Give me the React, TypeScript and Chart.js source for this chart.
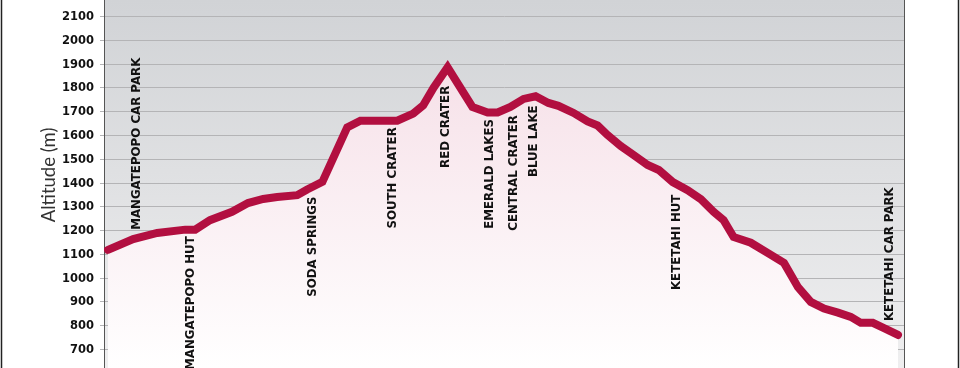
import React, { useEffect, useRef } from "react";
import { Chart, registerables } from "chart.js";

Chart.register(...registerables);

// Trail profile: distance along the track (km) and altitude (m)
const distanceKm = [
  0, 0.63, 1.23, 1.93, 2.18, 2.55, 3.1, 3.5, 3.88, 4.23, 4.73, 4.98, 5.36, 5.98, 6.31, 7.23, 7.63, 7.88,
  8.14, 8.49, 9.11, 9.49, 9.74, 10.06, 10.39, 10.69, 11.01, 11.26, 11.64, 11.99, 12.24, 12.49, 12.82,
  13.14, 13.49, 13.77, 14.12, 14.49, 14.82, 15.14, 15.39, 15.64, 16.07, 16.5, 16.9, 17.25, 17.57, 17.9,
  18.25, 18.57, 18.82, 19.12, 19.4, 19.75,
];
const altitudeM = [
  1119, 1164, 1190, 1204, 1204, 1244, 1279, 1316, 1333, 1341, 1349, 1373, 1405, 1634, 1662, 1662, 1692, 1727,
  1801, 1887, 1720, 1697, 1697, 1720, 1754, 1765, 1737, 1725, 1695, 1659, 1642, 1602, 1556,
  1518, 1476, 1455, 1404, 1370, 1332, 1279, 1244, 1173, 1149, 1105, 1064, 962, 900, 872,
  855, 837, 812, 812, 790, 761,
];

// Waypoints along the track
const waypointNames = [
  "MANGATEPOPO CAR PARK",
  "MANGATEPOPO HUT",
  "SODA SPRINGS",
  "SOUTH CRATER",
  "RED CRATER",
  "EMERALD LAKES",
  "CENTRAL CRATER",
  "BLUE LAKE",
  "KETETAHI HUT",
  "KETETAHI CAR PARK",
];
const waypointKm = [0.73, 2.08, 5.13, 7.13, 8.46, 9.54, 10.14, 10.64, 14.22, 19.55];
const waypointSide = ["above", "below", "below", "below", "below", "below", "below", "below", "below", "above"];

const axisTitle = "Altitude (m)";
const yMin = 622;
const yMax = 2170;
const yStep = 100;
const xMin = -0.1;
const xMax = 19.9;

const LINE_COLOR = "#b20f40";
const LABEL_FONT = "bold 11.8px 'DejaVu Sans'";
const TICK_FONT = "bold 11.5px 'DejaVu Sans'";

function lineYRange(pts: { x: number; y: number }[], x0: number, x1: number) {
  let lo = Infinity;
  let hi = -Infinity;
  for (let sx = x0; sx <= x1; sx += 0.5) {
    for (let i = 0; i < pts.length - 1; i++) {
      const p = pts[i];
      const q = pts[i + 1];
      if (sx >= p.x && sx <= q.x) {
        const t = q.x === p.x ? 0 : (sx - p.x) / (q.x - p.x);
        const y = p.y + t * (q.y - p.y);
        lo = Math.min(lo, y);
        hi = Math.max(hi, y);
        break;
      }
    }
  }
  return { lo, hi };
}

const decorPlugin = {
  id: "decor",
  beforeDraw(chart: any) {
    const { ctx, chartArea: a } = chart;
    ctx.save();
    const g = ctx.createLinearGradient(0, a.top, 0, a.bottom);
    g.addColorStop(0, "#d1d3d6");
    g.addColorStop(1, "#efeff0");
    ctx.fillStyle = g;
    ctx.fillRect(a.left, a.top, a.right - a.left, a.bottom - a.top);
    ctx.restore();
  },
  afterDraw(chart: any) {
    const { ctx, chartArea: a, scales } = chart;
    const ys = scales.y;
    const xs = scales.x;
    ctx.save();
    // right plot border
    ctx.strokeStyle = "#555";
    ctx.lineWidth = 1;
    ctx.beginPath();
    ctx.moveTo(Math.round(a.right) + 0.5, 0);
    ctx.lineTo(Math.round(a.right) + 0.5, chart.height);
    ctx.stroke();
    // outer frame lines
    ctx.strokeStyle = "#222";
    ctx.lineWidth = 1.5;
    ctx.beginPath();
    ctx.moveTo(1.5, 0);
    ctx.lineTo(1.5, chart.height);
    ctx.moveTo(958.5, 0);
    ctx.lineTo(958.5, chart.height);
    ctx.stroke();
    // y tick labels
    ctx.fillStyle = "#111";
    ctx.font = TICK_FONT;
    ctx.textAlign = "right";
    ctx.textBaseline = "middle";
    for (const t of ys.ticks) {
      const py = ys.getPixelForValue(t.value);
      ctx.fillText(String(t.value), a.left - 10, py + 0.5);
    }
    // axis title
    ctx.save();
    ctx.translate(49, 175);
    ctx.rotate(-Math.PI / 2);
    ctx.font = "18.5px Lato";
    ctx.fillStyle = "#333";
    ctx.textAlign = "center";
    ctx.textBaseline = "middle";
    ctx.fillText(axisTitle, 0, 0);
    ctx.restore();
    // waypoint labels, placed just clear of the drawn line
    const pts = chart.getDatasetMeta(0).data.map((e: any) => ({ x: e.x, y: e.y }));
    ctx.font = LABEL_FONT;
    ctx.fillStyle = "#111";
    ctx.textBaseline = "middle";
    const gap = 6.5;
    const half = 7;
    waypointNames.forEach((name, i) => {
      const px = xs.getPixelForValue(waypointKm[i]);
      const r = lineYRange(pts, px - half, px + half);
      ctx.save();
      if (waypointSide[i] === "above") {
        ctx.translate(px, r.lo - gap);
        ctx.rotate(-Math.PI / 2);
        ctx.textAlign = "left";
      } else {
        ctx.translate(px, r.hi + gap);
        ctx.rotate(-Math.PI / 2);
        ctx.textAlign = "right";
      }
      ctx.fillText(name, 0, 0);
      ctx.restore();
    });
    ctx.restore();
  },
};

export default function App() {
  const ref = useRef<HTMLCanvasElement | null>(null);
  useEffect(() => {
    document.body.style.margin = "0";
    const canvas = ref.current!;
    const chart = new Chart(canvas, {
      type: "line",
      data: {
        datasets: [
          {
            data: distanceKm.map((d, i) => ({ x: d, y: altitudeM[i] })),
            borderColor: LINE_COLOR,
            borderWidth: 8,
            borderCapStyle: "round",
            borderJoinStyle: "miter",
            pointRadius: 0,
            tension: 0,
            fill: "start",
            backgroundColor: (c: any) => {
              const a = c.chart.chartArea;
              if (!a) return "#f7e6ec";
              const g = c.chart.ctx.createLinearGradient(0, a.top, 0, a.bottom);
              g.addColorStop(0, "#f4d8e2");
              g.addColorStop(0.35, "#f8e7ed");
              g.addColorStop(1, "#ffffff");
              return g;
            },
          },
        ],
      },
      options: {
        responsive: false,
        animation: false,
        layout: { padding: { left: 100, right: 56, top: 0, bottom: 0 } },
        plugins: { legend: { display: false }, tooltip: { enabled: false } },
        scales: {
          x: { type: "linear", min: xMin, max: xMax, display: false },
          y: {
            type: "linear",
            min: yMin,
            max: yMax,
            ticks: { display: false, stepSize: yStep, includeBounds: false },
            grid: { color: "#b4b4b6", lineWidth: 1, tickLength: 4, drawTicks: true },
            border: { display: true, color: "#555", width: 1 },
          },
        },
      },
      plugins: [decorPlugin],
    });
    return () => chart.destroy();
  }, []);
  return (
    <div style={{ width: 960, height: 368, background: "#fff" }}>
      <canvas ref={ref} width={960} height={368} style={{ display: "block" }} />
    </div>
  );
}
